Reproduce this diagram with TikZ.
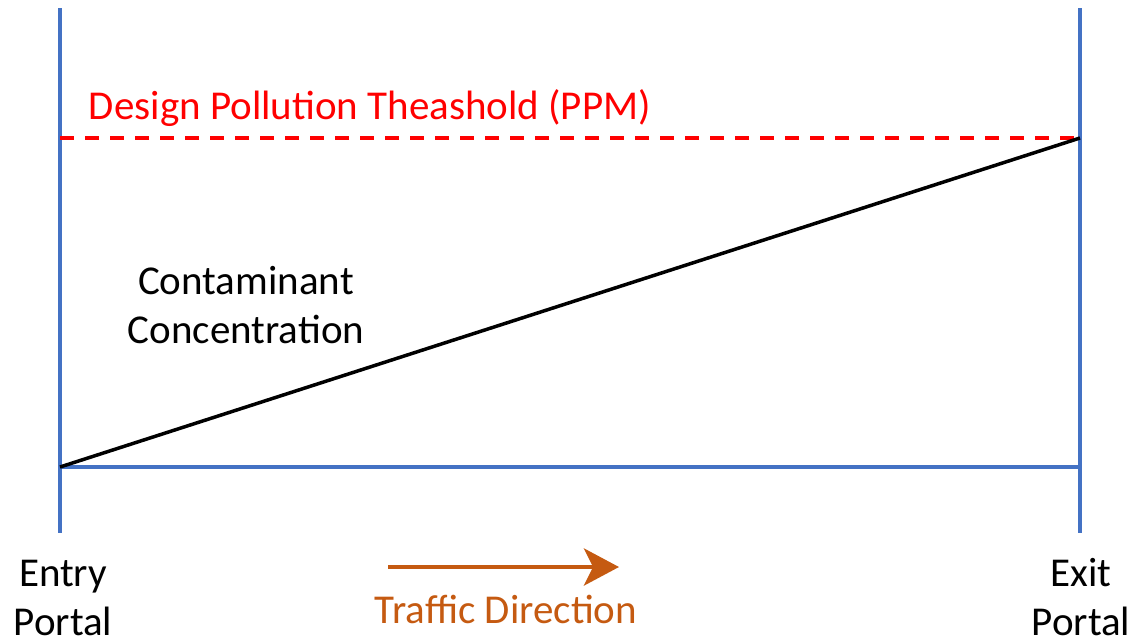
\documentclass[tikz,border=0pt]{standalone}
\usepackage{fontspec}
\setmainfont{Carlito}
\usetikzlibrary{arrows.meta}
\definecolor{portalblue}{HTML}{4472C4}
\definecolor{threshred}{HTML}{FF0000}
\definecolor{trafficorange}{HTML}{C55A11}
\tikzset{
  portal/.style={draw=portalblue, line width=4pt},
  threshold/.style={draw=threshred, line width=4pt, dash pattern=on 14pt off 11pt},
  conc/.style={draw=black, line width=3.5pt},
  lbl/.style={font=\fontsize{41}{49}\selectfont, align=center, anchor=base, inner sep=0pt},
  flow/.style={draw=trafficorange, line width=4.5pt, -{Stealth[length=35pt,width=37pt,inset=9pt]}}
}
\begin{document}
\begin{tikzpicture}[x=1pt,y=-1pt]
\useasboundingbox (0,0) rectangle (1132,641);
\coordinate (lt) at (60,8);
\coordinate (lb) at (60,533);
\coordinate (rt) at (1080,8);
\coordinate (rb) at (1080,533);
\coordinate (l0) at (60,467);
\coordinate (r0) at (1080,467);
\coordinate (lth) at (60,138);
\coordinate (rth) at (1080,138);
\coordinate (as) at (388,567);
\coordinate (ae) at (619,567);
\draw[portal] (lt) -- (lb);
\draw[portal] (rt) -- (rb);
\draw[portal] (l0) -- (r0);
\draw[threshold] (lth) -- (rth);
\draw[conc] (l0) -- (rth);
\draw[flow] (as) -- (ae);
\node[lbl, text=threshred] (design) at (370,119) {Design Pollution Theashold (PPM)};
\node[lbl] (contam) at (246,343) {Contaminant\\Concentration};
\node[lbl] (entry) at (63,635) {Entry\\Portal};
\node[lbl] (exit) at (1081,635) {Exit\\Portal};
\node[lbl, text=trafficorange] (traffic) at (506,623) {Traffic Direction};
\end{tikzpicture}
\end{document}
